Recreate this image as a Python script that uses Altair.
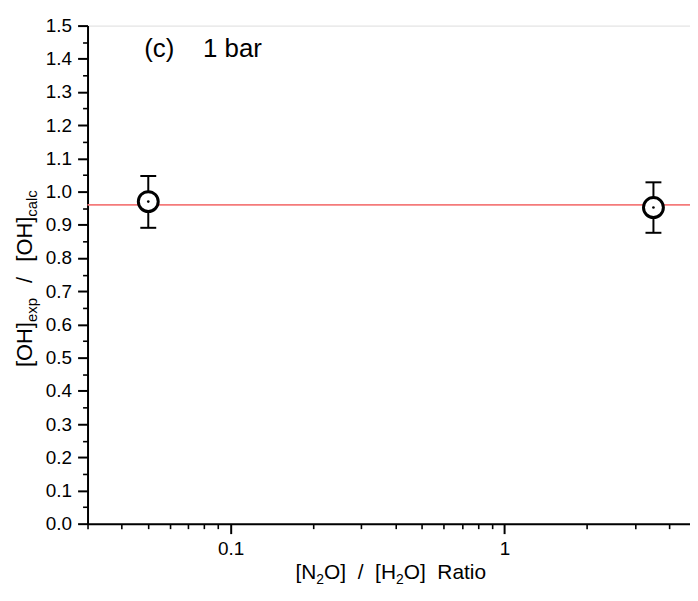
import altair as alt
import pandas as pd

# ---- data ----
ratio = [0.05, 3.5]            # [N2O]/[H2O]
oh_ratio = [0.970, 0.952]      # [OH]exp/[OH]calc
err_lo = [0.891, 0.876]
err_hi = [1.047, 1.028]
ref_value = [0.96]

y_major = [0.0, 0.1, 0.2, 0.3, 0.4, 0.5, 0.6, 0.7, 0.8, 0.9, 1.0, 1.1, 1.2, 1.3, 1.4, 1.5]
y_minor = [0.05, 0.15, 0.25, 0.35, 0.45, 0.55, 0.65, 0.75, 0.85, 0.95, 1.05, 1.15, 1.25, 1.35, 1.45]
x_major = [0.1, 1]
x_minor = [0.03, 0.04, 0.05, 0.06, 0.07, 0.08, 0.09, 0.2, 0.3, 0.4, 0.5, 0.6, 0.7, 0.8, 0.9, 2, 3, 4]

FONT = "Liberation Sans, Arial, Helvetica, sans-serif"
W, H = 606, 501
X_DOM = [0.03, 4.76]
Y_DOM = [0.0, 1.5]

df = pd.DataFrame({"r": ratio, "v": oh_ratio, "lo": err_lo, "hi": err_hi})
xs = alt.Scale(type="log", domain=X_DOM, nice=False)
ys = alt.Scale(domain=Y_DOM, nice=False, zero=False)

base = alt.Chart(df)

ref_rule = alt.Chart(pd.DataFrame({"ref": ref_value})).mark_rule(
    color="#F47A7A", strokeWidth=1.8
).encode(y=alt.Y("ref:Q", scale=ys, axis=None))

major_axes = base.mark_rule(color="black", strokeWidth=2).encode(
    x=alt.X("r:Q", scale=xs, axis=alt.Axis(
        orient="bottom", values=x_major, format="~g", title=None, grid=False,
        tickSize=10, tickWidth=2, domainWidth=2, domainColor="black", tickColor="black",
        labelFont=FONT, labelFontSize=19, labelColor="black", labelPadding=6)),
    y=alt.Y("lo:Q", scale=ys, axis=alt.Axis(
        orient="left", values=y_major, format=".1f", title=None, grid=False,
        tickSize=10, tickWidth=2, domainWidth=2, domainColor="black", tickColor="black",
        labelFont=FONT, labelFontSize=19, labelColor="black", labelPadding=6)),
    y2="hi:Q",
)

cap_lo = base.mark_tick(orient="horizontal", size=16, thickness=2, color="black", opacity=1).encode(
    x=alt.X("r:Q", scale=xs, axis=None), y=alt.Y("lo:Q", scale=ys, axis=None))
cap_hi = base.mark_tick(orient="horizontal", size=16, thickness=2, color="black", opacity=1).encode(
    x=alt.X("r:Q", scale=xs, axis=None), y=alt.Y("hi:Q", scale=ys, axis=None))

circles = base.mark_point(shape="circle", size=400, filled=True, fill="white",
                          stroke="black", strokeWidth=3, opacity=1).encode(
    x=alt.X("r:Q", scale=xs, axis=None), y=alt.Y("v:Q", scale=ys, axis=None))

dots = base.mark_point(shape="circle", size=7, filled=True, color="black", opacity=1).encode(
    x=alt.X("r:Q", scale=xs, axis=alt.Axis(
        orient="bottom", values=x_minor, labels=False, title=None, grid=False, domain=False,
        tickSize=5, tickWidth=1.6, tickColor="black")),
    y=alt.Y("v:Q", scale=ys, axis=alt.Axis(
        orient="left", values=y_minor, labels=False, title=None, grid=False, domain=False,
        tickSize=5, tickWidth=1.6, tickColor="black")),
)

# ---- rich-text titles (with subscripts) ----
AW = {" ": 278, "\u00a0": 278, "[": 278, "]": 278, "/": 278, "(": 333, ")": 333,
      "N": 722, "O": 778, "H": 722, "R": 722, "2": 556, "a": 556, "t": 278, "i": 222,
      "o": 556, "e": 556, "x": 500, "p": 556, "c": 500, "l": 222, "b": 556, "r": 333, "1": 556}


def tw(s, fs):
    return sum(AW.get(c, 556) for c in s) * fs / 1000.0


one = pd.DataFrame({"k": [0]})
text_layers = []

# x title: (text, font size, baseline shift, extra gap after)
FT, FS, SUB = 21, 14, 5
GAP = tw("  ", FT)
x_pieces = [("[N", FT, 0, 0), ("2", FS, SUB, 0), ("O]", FT, 0, GAP), ("/", FT, 0, GAP),
            ("[H", FT, 0, 0), ("2", FS, SUB, 0), ("O]", FT, 0, GAP), ("Ratio", FT, 0, 0)]
total = sum(tw(t, f) + g for t, f, _, g in x_pieces)
pos = (W + 4) / 2.0 - total / 2.0
for t, f, sh, g in x_pieces:
    text_layers.append(alt.Chart(one).mark_text(
        text=t, font=FONT, fontSize=f, align="left", baseline="alphabetic", color="black"
    ).encode(x=alt.value(pos), y=alt.value(H + 56 + sh)))
    pos += tw(t, f) + g

# y title
YT, YS, YSUB = 22, 15, 5
YGAP = tw("  ", YT) + 3
y_pieces = [("[OH]", YT, 0, 0), ("exp", YS, YSUB, YGAP), ("/", YT, 0, YGAP),
            ("[OH]", YT, 0, 0), ("calc", YS, YSUB, 0)]
total = sum(tw(t, f) + g for t, f, _, g in y_pieces)
pos = H / 2.0 + 4 + total / 2.0
for t, f, sh, g in y_pieces:
    text_layers.append(alt.Chart(one).mark_text(
        text=t, font=FONT, fontSize=f, align="left", baseline="alphabetic", color="black", angle=270
    ).encode(x=alt.value(-56 + sh), y=alt.value(pos)))
    pos -= tw(t, f) + g

label_a = alt.Chart(one).mark_text(
    text="(c)", font=FONT, fontSize=26, align="left", baseline="alphabetic", color="black"
).encode(x=alt.value(57), y=alt.value(32))
label_b = alt.Chart(one).mark_text(
    text="1 bar", font=FONT, fontSize=26, align="left", baseline="alphabetic", color="black"
).encode(x=alt.value(57 + tw("(c)", 26) + tw("    ", 26)), y=alt.value(32))

chart = alt.layer(
    ref_rule, major_axes, cap_lo, cap_hi, circles, dots, label_a, label_b, *text_layers
).resolve_axis(x="independent", y="independent").properties(
    width=W, height=H,
    autosize=alt.AutoSizeParams(type="none"),
    padding={"left": 80, "top": 16, "right": 0, "bottom": 61},
).configure_view(stroke=None).configure(background="white")

chart.save("out.html", embed_options={"renderer": "svg", "actions": False})
